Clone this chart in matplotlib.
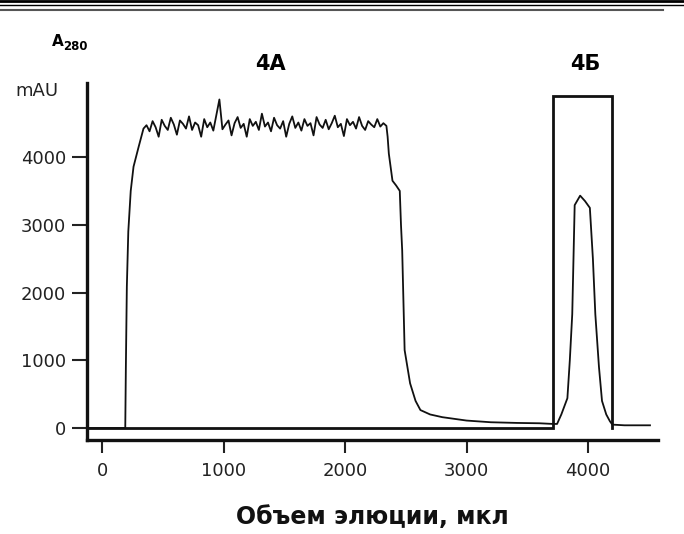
import matplotlib.pyplot as plt
from matplotlib.lines import Line2D

# elution volume (ul) / absorbance A280 (mAU)
rise_vol = [-132, 190, 195, 203, 215, 235, 258, 300]
rise_a = [0, 0, 900, 2085, 2900, 3500, 3857, 4150]

plateau_vol = [340, 365, 390, 415, 440, 465, 490, 515, 540, 565,
               590, 615, 640, 665, 690, 715, 740, 765, 790, 815,
               840, 865, 890, 915, 940, 965, 990, 1015, 1040, 1065,
               1090, 1115, 1140, 1165, 1190, 1215, 1240, 1265, 1290, 1315,
               1340, 1365, 1390, 1415, 1440, 1465, 1490, 1515, 1540, 1565,
               1590, 1615, 1640, 1665, 1690, 1715, 1740, 1765, 1790, 1815,
               1840, 1865, 1890, 1915, 1940, 1965, 1990, 2015, 2040, 2065,
               2090, 2115, 2140, 2165, 2190, 2215, 2240, 2265, 2290, 2315,
               2340]
plateau_a = [4420, 4470, 4380, 4530, 4440, 4300, 4550, 4460, 4400, 4580,
             4480, 4330, 4540, 4490, 4420, 4600, 4400, 4510, 4470, 4300,
             4560, 4440, 4510, 4390, 4620, 4850, 4410, 4480, 4540, 4320,
             4500, 4590, 4430, 4490, 4300, 4560, 4460, 4520, 4400, 4640,
             4450, 4510, 4380, 4580, 4470, 4420, 4530, 4300, 4490, 4600,
             4430, 4510, 4390, 4560, 4460, 4500, 4320, 4590, 4480, 4430,
             4550, 4410, 4500, 4610, 4440, 4490, 4310, 4560, 4470, 4520,
             4420, 4590, 4460, 4400, 4530, 4480, 4440, 4560, 4450, 4500,
             4460]

fall_vol = [2350, 2360, 2390, 2420, 2450, 2460, 2470, 2490, 2535, 2580,
            2620, 2700, 2800, 3000, 3200, 3415, 3600, 3712]
fall_a = [4300, 4050, 3650, 3580, 3500, 3000, 2620, 1150, 660, 400,
          265, 200, 160, 110, 85, 75, 70, 60]

peak_vol = [3745, 3780, 3830, 3850, 3870, 3890, 3935, 3975, 4015, 4040,
            4060, 4090, 4115, 4150, 4180, 4200, 4300, 4510]
peak_a = [60, 200, 440, 1000, 1680, 3290, 3430, 3350, 3250, 2500,
          1680, 900, 400, 200, 100, 50, 40, 40]

frac_vol = [-132, 3712, 3712, 4197, 4197]
frac_a = [0, 0, 4900, 4900, 0]

xticks = [0, 1000, 2000, 3000, 4000]
yticks = [0, 1000, 2000, 3000, 4000]

vol = rise_vol + plateau_vol + fall_vol + peak_vol
a280 = rise_a + plateau_a + fall_a + peak_a

fig = plt.figure(figsize=(6.84, 5.34), dpi=100)
ax = fig.add_axes([87 / 684, 94 / 534, 571 / 684, 357 / 534])

ax.plot(frac_vol, frac_a, color='#111111', lw=2.0, solid_joinstyle='miter')
ax.plot(vol, a280, color='#111111', lw=1.3)

ax.set_xlim(-125, 4576)
ax.set_ylim(-177, 5093)
ax.set_xticks(xticks)
ax.set_yticks(yticks)
ax.tick_params(axis='both', labelsize=13, width=1.5, color='#222222',
               labelcolor='#222222')
ax.tick_params(axis='x', length=9, pad=7)
ax.tick_params(axis='y', length=11, pad=4)
for s in ['top', 'right']:
    ax.spines[s].set_visible(False)
for s in ['left', 'bottom']:
    ax.spines[s].set_linewidth(2.4)
    ax.spines[s].set_color('#111111')

ax.set_xlabel('Объем элюции, мкл', fontsize=17, fontweight='bold', labelpad=18,
              color='#111111')

fig.text(52 / 684, 1 - 41 / 534, 'A', fontsize=11, fontweight='bold', va='center')
fig.text(63 / 684, 1 - 47 / 534, '280', fontsize=8.5, fontweight='bold', va='center')
fig.text(15 / 684, 1 - 91 / 534, 'mAU', fontsize=13, va='center', color='#222222')
fig.text(270 / 684, 1 - 64 / 534, '4A', fontsize=15, fontweight='bold',
         ha='center', va='center')
fig.text(585 / 684, 1 - 64 / 534, '4Б', fontsize=15, fontweight='bold',
         ha='center', va='center')

# scan border at the top
fig.add_artist(Line2D([0, 1], [1 - 1 / 534, 1 - 1 / 534], color='black', lw=2.0))
fig.add_artist(Line2D([0, 1], [1 - 4.5 / 534, 1 - 4.5 / 534], color='black', lw=1.0))
fig.add_artist(Line2D([0, 0.97], [1 - 10 / 534, 1 - 10 / 534], color='#555555', lw=1.5))

fig.savefig('out.png', dpi=100)
